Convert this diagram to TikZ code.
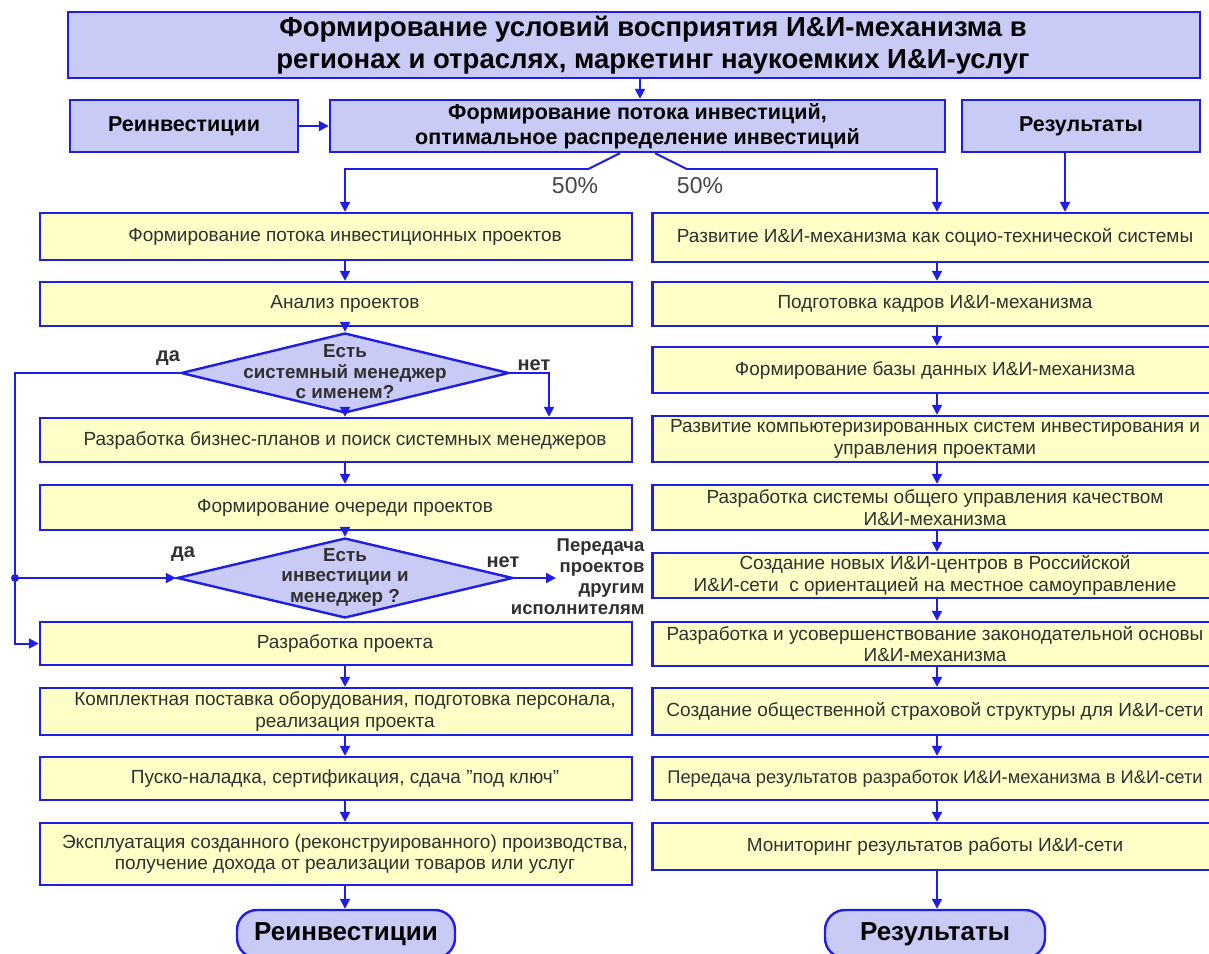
\documentclass[tikz,border=0pt]{standalone}
\usepackage{fontspec}
\setmainfont{Liberation Sans}
\usetikzlibrary{shapes.geometric,arrows.meta,calc}
\definecolor{bblue}{HTML}{1E1EE6}
\definecolor{lav}{HTML}{CACAF6}
\definecolor{yel}{HTML}{FFFFC8}
\definecolor{txt}{HTML}{303030}
\tikzset{
  box/.style={draw=bblue, line width=2.4pt, fill=yel, align=center, inner sep=1pt, text=txt, font=\fontsize{19}{21.5}\selectfont},
  lframe/.style={draw=bblue, line width=2.4pt, fill=yel, inner sep=0pt, minimum width=592},
  ltext/.style={align=center, inner sep=1pt, text=txt, font=\fontsize{19}{21.5}\selectfont},
  hbox/.style={draw=bblue, line width=2.4pt, fill=lav, align=center, inner sep=1pt, text=black, font=\bfseries\fontsize{21.5}{25}\selectfont},
  term/.style={draw=bblue, line width=2.4pt, fill=lav, rounded corners=20pt, align=center, text=black, font=\bfseries\fontsize{26}{28}\selectfont},
  dia/.style={draw=bblue, line width=2.4pt, fill=lav, diamond, inner sep=0pt},
  dtext/.style={align=center, font=\bfseries\fontsize{18.8}{20.5}\selectfont, text=txt},
  lbl/.style={font=\bfseries\fontsize{20}{22}\selectfont, text=txt},
  pct/.style={font=\fontsize{23}{26}\selectfont, text=txt!90},
  arr/.style={draw=bblue, line width=2pt, -{Triangle[length=10pt,width=10pt]}},
  ln/.style={draw=bblue, line width=2pt},
}
\begin{document}
\begin{tikzpicture}[x=1pt,y=-1pt]
\useasboundingbox (0,0) rectangle (1209,953);
\coordinate (colL) at (345,0);
\coordinate (colR) at (937,0);
% header
\node[hbox, minimum width=1132, minimum height=66] (top) at (634,45) {};
\node[align=center, font=\bfseries\fontsize{27.5}{32}\selectfont, text=black] (toptxt) at (653,45) {Формирование условий восприятия И\&И-механизма в\\регионах и отраслях, маркетинг наукоемких И\&И-услуг};
\node[hbox, minimum width=228, minimum height=52] (reinv) at (184,126) {Реинвестиции};
\node[hbox, minimum width=615, minimum height=52] (flow) at (637.5,126) {Формирование потока инвестиций,\\оптимальное распределение инвестиций};
\node[hbox, minimum width=238, minimum height=52] (res) at (1081,126) {Результаты};
% left column
\node[lframe, minimum height=47] (L1) at (336,236.5) {};
\node[ltext] (L1t) at (L1 -| colL) {Формирование потока инвестиционных проектов};
\node[lframe, minimum height=44] (L2) at (336,304) {};
\node[ltext] (L2t) at (L2 -| colL) {Анализ проектов};
\node[dia, minimum width=328, minimum height=80] (D1) at (345,373) {};
\node[dtext] (D1t) at ([yshift=1pt]D1) {Есть\\системный менеджер\\с именем?};
\node[lframe, minimum height=44] (L3) at (336,440) {};
\node[ltext] (L3t) at (L3 -| colL) {Разработка бизнес-планов и поиск системных менеджеров};
\node[lframe, minimum height=45] (L4) at (336,507.5) {};
\node[ltext] (L4t) at (L4 -| colL) {Формирование очереди проектов};
\node[dia, minimum width=336, minimum height=80] (D2) at (345,578) {};
\node[dtext] (D2t) at ([yshift=1pt]D2) {Есть\\инвестиции и\\менеджер ?};
\node[lframe, minimum height=43] (L5) at (336,643.5) {};
\node[ltext] (L5t) at (L5 -| colL) {Разработка проекта};
\node[lframe, minimum height=47] (L6) at (336,711.5) {};
\node[ltext] (L6t) at (L6 -| colL) {Комплектная поставка оборудования, подготовка персонала,\\реализация проекта};
\node[lframe, minimum height=43] (L7) at (336,778.5) {};
\node[ltext] (L7t) at (L7 -| colL) {Пуско-наладка, сертификация, сдача "под ключ"};
\node[lframe, minimum height=62] (L8) at (336,854) {};
\node[ltext] (L8t) at (L8 -| colL) {Эксплуатация созданного (реконструированного) производства,\\получение дохода от реализации товаров или услуг};
\node[term, minimum width=218, minimum height=48] (T1) at (346,934) {Реинвестиции};
% right column
\node[box, minimum width=565, minimum height=49] (R1) at (935,237.5) {Развитие И\&И-механизма как социо-технической системы};
\node[box, minimum width=565, minimum height=44] (R2) at (935,304) {Подготовка кадров И\&И-механизма};
\node[box, minimum width=565, minimum height=46] (R3) at (935,370) {Формирование базы данных И\&И-механизма};
\node[box, minimum width=565, minimum height=46] (R4) at (935,439) {Развитие компьютеризированных систем инвестирования и\\управления проектами};
\node[box, minimum width=565, minimum height=45] (R5) at (935,507.5) {Разработка системы общего управления качеством\\И\&И-механизма};
\node[box, minimum width=565, minimum height=45] (R6) at (935,575.5) {Создание новых И\&И-центров в Российской\\И\&И-сети\ \ с ориентацией на местное самоуправление};
\node[box, minimum width=565, minimum height=44] (R7) at (935,644) {Разработка и усовершенствование законодательной основы\\И\&И-механизма};
\node[box, minimum width=565, minimum height=47] (R8) at (935,711.5) {Создание общественной страховой структуры для И\&И-сети};
\node[box, minimum width=565, minimum height=43, font=\fontsize{18.3}{21}\selectfont] (R9) at (935,778.5) {Передача результатов разработок И\&И-механизма в И\&И-сети};
\node[box, minimum width=565, minimum height=47] (R10) at (935,846.5) {Мониторинг результатов работы И\&И-сети};
\node[term, minimum width=220, minimum height=48] (T2) at (935,934) {Результаты};
% labels
\node[lbl] (da1) at (168,358) {да};
\node[lbl] (net1) at (534,365) {нет};
\node[lbl] (da2) at (183,554) {да};
\node[lbl] (net2) at (503,562) {нет};
\node[lbl, anchor=east, align=right, font=\bfseries\fontsize{18.5}{21}\selectfont] (pass) at (648,577) {Передача\\проектов\\другим\\исполнителям};
\node[pct] (p1) at (575,186) {50\%};
\node[pct] (p2) at (700,186) {50\%};
\coordinate (passin) at (556,578);
\coordinate (dot) at (15,578);
% connectors
\draw[arr] (top.south -| 640,0) -- (flow.north -| 640,0);
\draw[arr] (reinv.east) -- (flow.west);
\draw[ln] ([xshift=-17.5pt]flow.south) -- ++(-32,16) coordinate (bl);
\draw[arr] (bl) -| (L1.north -| colL);
\draw[ln] ([xshift=17.5pt]flow.south) -- ++(32,16) coordinate (br);
\draw[arr] (br) -| (R1.north -| colR);
\draw[arr] (res.south -| 1065,0) -- (R1.north -| 1065,0);
\draw[arr] (L1.south -| colL) -- (L2.north -| colL);
\draw[arr] (L2.south -| colL) -- (D1.north);
\draw[arr] (D1.south) -- (L3.north -| colL);
\draw[arr] (D1.east) -| (L3.north -| 549,0);
\draw[arr] (D1.west) -| (15,643.5) -- (L5.west);
\draw[arr] (L3.south -| colL) -- (L4.north -| colL);
\draw[arr] (L4.south -| colL) -- (D2.north);
\draw[arr] (dot) -- (D2.west);
\fill[bblue] (dot) circle (4pt);
\draw[arr] (D2.east) -- (passin);
\draw[arr] (L5.south -| colL) -- (L6.north -| colL);
\draw[arr] (L6.south -| colL) -- (L7.north -| colL);
\draw[arr] (L7.south -| colL) -- (L8.north -| colL);
\draw[arr] (L8.south -| colL) -- (T1.north -| colL);
\foreach \a/\b in {R1/R2,R2/R3,R3/R4,R4/R5,R5/R6,R6/R7,R7/R8,R8/R9,R9/R10,R10/T2}
  \draw[arr] (\a.south -| colR) -- (\b.north -| colR);
\end{tikzpicture}
\end{document}
